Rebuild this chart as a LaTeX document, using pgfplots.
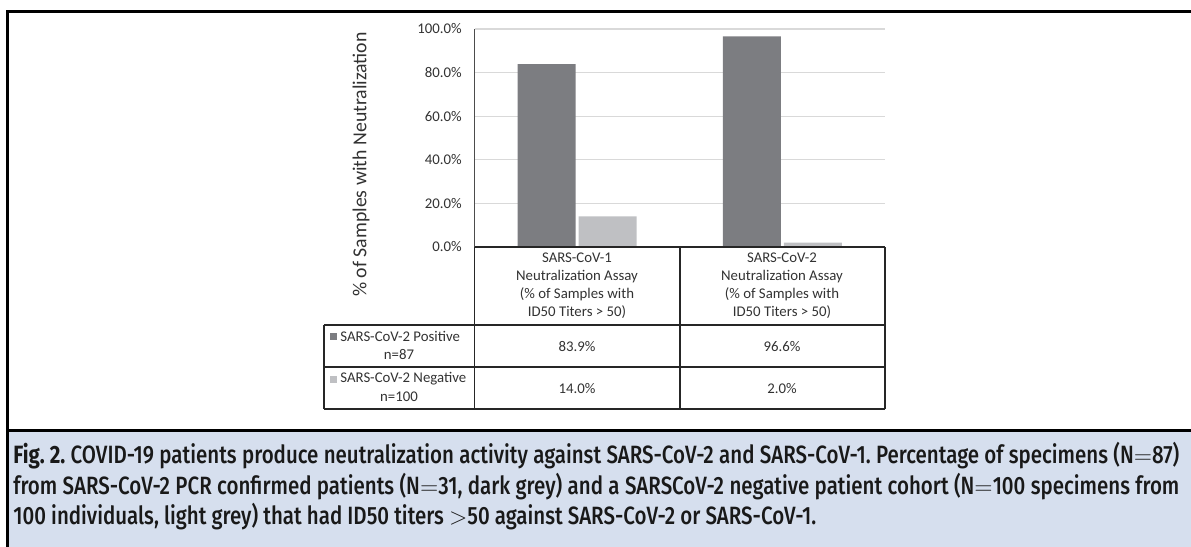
\documentclass[border=0pt]{standalone}
\usepackage{pgfplots}
\pgfplotsset{compat=1.18}
\usepackage{fontspec}
\setmainfont{Carlito}
\newfontfamily\capfont[FakeStretch=0.82]{Fira Sans Medium}
\newfontfamily\capfontb[FakeStretch=0.82]{Fira Sans Bold}
\definecolor{darkbar}{RGB}{124,125,129}
\definecolor{lightbar}{RGB}{191,192,195}
\definecolor{capblue}{RGB}{214,223,238}
\definecolor{txt}{RGB}{50,50,50}
\definecolor{gridc}{RGB}{217,217,217}
\begin{document}
\begin{tikzpicture}
% caption box background and frame
\begin{scope}[x=0.5pt,y=-0.5pt]
\path[use as bounding box] (0,0) rectangle (1191,547);
\fill[capblue] (7.5,430) rectangle (1191,547);
\draw[line width=1.5pt] (1191,430.5) -- (7.5,430.5);
\draw[line width=1.5pt] (1191,11.5) -- (7.5,11.5) -- (7.5,547);
\end{scope}
\begin{axis}[
  at={(237.25pt,-123.5pt)}, anchor=south west,
  scale only axis, width=205.25pt, height=109pt,
  xmin=-0.5, xmax=1.5, ymin=0, ymax=100,
  axis x line*=bottom, axis y line*=left,
  x axis line style={draw=none},
  y axis line style={draw=black!70, line width=0.6pt},
  xtick=\empty,
  ytick={0,20,40,60,80,100},
  ymajorgrids, grid style={gridc, line width=0.6pt},
  major tick length=0pt,
  yticklabel={\pgfmathprintnumber[fixed,fixed zerofill,precision=1]{\tick}\%},
  /pgf/number format/assume math mode=true,
  yticklabel style={font=\fontsize{7.4pt}{9pt}\selectfont, text=txt, inner sep=0pt, xshift=-6.25pt},
  ybar, bar width=29pt,
  clip=false,
]
\addplot[fill=darkbar, draw=none, bar shift=-15.25pt] coordinates {(0,83.9) (1,96.6)};
\addplot[fill=lightbar, draw=none, bar shift=15.25pt] coordinates {(0,14.0) (1,2.0)};
\end{axis}
\begin{scope}[x=0.5pt,y=-0.5pt]
% y label
\node[rotate=90, text=txt, font=\fontsize{9.9pt}{12pt}\selectfont, inner sep=0pt] at (361,164.5) {\% of Samples with Neutralization};
% table lines
\begin{scope}[line width=0.75pt, draw=black!85]
\draw (474.5,247) -- (885,247);
\draw (324,325) -- (885,325);
\draw (324,367) -- (885,367);
\draw (324,409) -- (885,409);
\draw (474.5,247) -- (474.5,409);
\draw (680,247) -- (680,409);
\draw (885,247) -- (885,409);
\draw (324,325) -- (324,409);
\end{scope}
% header texts
\foreach \cx/\v in {577/1,782/2}{
  \node[align=center, text=txt, font=\fontsize{7.4pt}{9pt}\selectfont, inner sep=0pt, anchor=center] at (\cx,286) {SARS-CoV-\v\\Neutralization Assay\\(\% of Samples with\\ID50 Titers > 50)};
}
% legend cells
\fill[darkbar] (330,333) rectangle (337,340);
\fill[lightbar] (330,376) rectangle (337,383);
\node[anchor=west, text=txt, font=\fontsize{7.4pt}{9pt}\selectfont, inner sep=0pt] at (340,336.5) {SARS-CoV-2 Positive};
\node[text=txt, font=\fontsize{7.4pt}{9pt}\selectfont, inner sep=0pt] at (399,354.5) {n=87};
\node[anchor=west, text=txt, font=\fontsize{7.4pt}{9pt}\selectfont, inner sep=0pt] at (340,379) {SARS-CoV-2 Negative};
\node[text=txt, font=\fontsize{7.4pt}{9pt}\selectfont, inner sep=0pt] at (399,397) {n=100};
% values
\node[text=txt, font=\fontsize{7.4pt}{9pt}\selectfont, inner sep=0pt] at (577,346.5) {83.9\%};
\node[text=txt, font=\fontsize{7.4pt}{9pt}\selectfont, inner sep=0pt] at (782,346.5) {96.6\%};
\node[text=txt, font=\fontsize{7.4pt}{9pt}\selectfont, inner sep=0pt] at (577,388.5) {14.0\%};
\node[text=txt, font=\fontsize{7.4pt}{9pt}\selectfont, inner sep=0pt] at (782,388.5) {2.0\%};
% caption
\node[anchor=north west, inner sep=0pt, text width=583pt, align=justify, text=black!90] at (13,442) {\capfont\fontsize{12.5pt}{15.2pt}\selectfont\frenchspacing\lineskiplimit=-20pt\relax
{\capfontb Fig. 2.} COVID-19 patients produce neutralization activity against SARS-CoV-2 and SARS-CoV-1. Percentage of specimens (N$=$87) from SARS-CoV-2 PCR confirmed patients (N$=$31, dark grey) and a SARSCoV-2 negative patient cohort (N$=$100 specimens from 100 individuals, light grey) that had ID50 titers $>$50 against SARS-CoV-2 or SARS-CoV-1.\par};
\end{scope}
\end{tikzpicture}
\end{document}
